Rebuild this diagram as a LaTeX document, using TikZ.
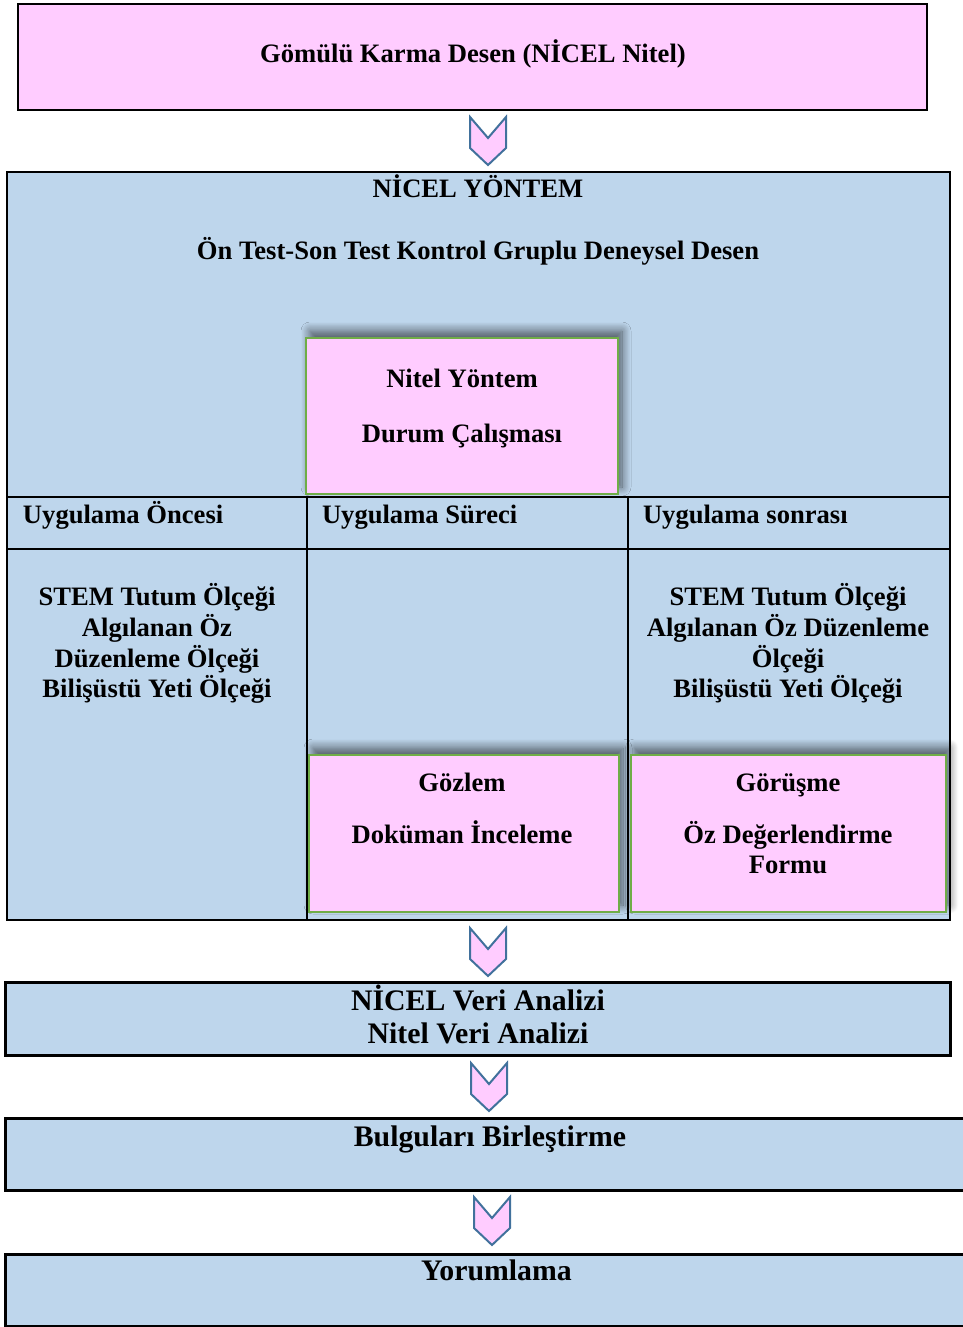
\documentclass[tikz,border=0pt]{standalone}
\usepackage{fontspec}
\setmainfont{Liberation Serif}
\usetikzlibrary{shadows.blur}
\definecolor{pinkfill}{HTML}{FFCCFF}
\definecolor{bluefill}{HTML}{BED6EC}
\definecolor{greenedge}{HTML}{70AD47}
\definecolor{chevedge}{HTML}{41719C}
\tikzset{
  txt/.style={font=\bfseries\fontsize{26.6}{31}\selectfont, inner sep=0pt, outer sep=0pt, anchor=base},
  bigtxt/.style={txt, font=\bfseries\fontsize{29.8}{34}\selectfont},
  lefttxt/.style={txt, anchor=base west},
  box/.style={rectangle, draw=black, inner sep=0pt, outer sep=0pt},
  pinkframe/.style={box, fill=pinkfill, line width=2pt},
  blueframe/.style={box, fill=bluefill, line width=3pt},
  mainframe/.style={box, fill=bluefill, line width=1.8pt},
  greenbox/.style={rectangle, draw=greenedge, fill=pinkfill, line width=2pt, inner sep=0pt, outer sep=0pt,
    blur shadow={shadow xshift=4pt, shadow yshift=7pt, shadow blur radius=9pt,
      shadow blur steps=12, shadow opacity=60}},
  rule/.style={draw=black, line width=1.8pt},
  chevron/.pic={
    \filldraw[fill=pinkfill, draw=chevedge, line width=2pt, line join=miter]
      (-18,0) -- (0,21) -- (18,0) -- (18,31) -- (0,48) -- (-18,31) -- cycle;
  }
}
\begin{document}
\begin{tikzpicture}[x=1pt, y=-1pt]
\useasboundingbox (0,0) rectangle (963,1327);

% design heading
\node[pinkframe, minimum width=909, minimum height=106] (top) at (472.5,57) {};
\node[txt] (toptxt) at (473,63) {Gömülü Karma Desen (NİCEL Nitel)};

\pic at (488,117) {chevron};

% quantitative method frame with the three phases
\node[mainframe, minimum width=943, minimum height=748] (main) at (478.5,546) {};
\node[txt] (nicel) at (478,197) {NİCEL YÖNTEM};
\node[txt] (desen) at (478,259) {Ön Test-Son Test Kontrol Gruplu Deneysel Desen};

\coordinate (r1w) at (7,497);   \coordinate (r1e) at (950,497);
\coordinate (r2w) at (7,549);   \coordinate (r2e) at (950,549);
\coordinate (c1t) at (307,497); \coordinate (c1b) at (307,920);
\coordinate (c2t) at (628,497); \coordinate (c2b) at (628,920);
\draw[rule] (r1w) -- (r1e);
\draw[rule] (r2w) -- (r2e);
\draw[rule] (c1t) -- (c1b);
\draw[rule] (c2t) -- (c2b);

\node[lefttxt] (once) at (23,523) {Uygulama Öncesi};
\node[lefttxt] (surec) at (322,523) {Uygulama Süreci};
\node[lefttxt] (sonra) at (643,523) {Uygulama sonrası};

\node[txt] (l1) at (157,605) {STEM Tutum Ölçeği};
\node[txt] (l2) at (157,636) {Algılanan Öz};
\node[txt] (l3) at (157,667) {Düzenleme Ölçeği};
\node[txt] (l4) at (157,697) {Bilişüstü Yeti Ölçeği};

\node[txt] (s1) at (788,605) {STEM Tutum Ölçeği};
\node[txt] (s2) at (788,636) {Algılanan Öz Düzenleme};
\node[txt] (s3) at (788,667) {Ölçeği};
\node[txt] (s4) at (788,697) {Bilişüstü Yeti Ölçeği};

% qualitative parts
\node[greenbox, minimum width=312, minimum height=156] (nitel) at (462,416) {};
\node[txt] (n1) at (462,387) {Nitel Yöntem};
\node[txt] (n2) at (462,442) {Durum Çalışması};

\node[greenbox, minimum width=310, minimum height=157] (gozlem) at (464,833.5) {};
\node[txt] (g1) at (462,791) {Gözlem};
\node[txt] (g2) at (462,843) {Doküman İnceleme};

\node[greenbox, minimum width=315, minimum height=157] (gorusme) at (788,833.5) {};
\node[txt] (o1) at (788,791) {Görüşme};
\node[txt] (o2) at (788,843) {Öz Değerlendirme};
\node[txt] (o3) at (788,873) {Formu};

\pic at (488,928) {chevron};

% analysis, merging and interpretation
\node[blueframe, minimum width=945, minimum height=73] (analiz) at (477.5,1018.5) {};
\node[bigtxt] (a1) at (478,1010) {NİCEL Veri Analizi};
\node[bigtxt] (a2) at (478,1043) {Nitel Veri Analizi};

\pic at (489,1063) {chevron};

\node[blueframe, minimum width=963, minimum height=72] (bulgu) at (486.5,1154) {};
\node[bigtxt] (b1) at (490,1146) {Bulguları Birleştirme};

\pic at (492,1197) {chevron};

\node[blueframe, minimum width=963, minimum height=72] (yorum) at (486.5,1290) {};
\node[bigtxt] (y1) at (496.5,1280) {Yorumlama};
\end{tikzpicture}
\end{document}
